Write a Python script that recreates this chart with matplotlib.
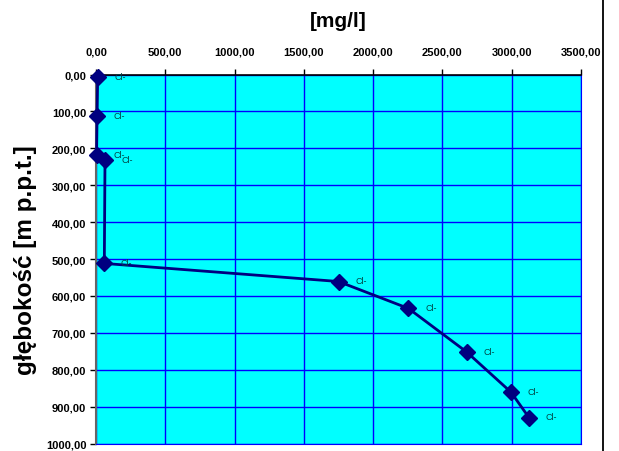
import numpy as np
import matplotlib.pyplot as plt
from matplotlib.ticker import FuncFormatter
from matplotlib.lines import Line2D

plt.rcParams['font.family'] = ['Liberation Sans', 'DejaVu Sans']

# stezenie Cl- [mg/l] i glebokosc [m p.p.t.]
stezenie = [12, 8, 4, 65, 60, 1750, 2255, 2675, 2995, 3125]
glebokosc = [8, 112, 219, 231, 512, 561, 634, 752, 861, 930]
etykiety = ['Cl-'] * len(stezenie)
x_ticks = [0, 500, 1000, 1500, 2000, 2500, 3000, 3500]
y_ticks = [0, 100, 200, 300, 400, 500, 600, 700, 800, 900, 1000]

fig = plt.figure(figsize=(6.19, 4.52), dpi=100)
ax = fig.add_axes([96/619, 1-444.5/452, (581-96)/619, (444.5-75.5)/452])
ax.set_facecolor('#00FFFF')

ax.plot(stezenie, glebokosc, color='#000080', lw=2, marker='D', ms=8.5,
        mec='#000080', mfc='#000080', zorder=3, clip_on=False)
for x, y, t in zip(stezenie, glebokosc, etykiety):
    ax.annotate(t, (x, y), xytext=(12, 0.5), textcoords='offset points',
                fontsize=6.5, color='#004444', va='center', ha='left')

ax.set_xlim(0, 3500)
ax.set_ylim(1000, 0)
ax.set_xticks(x_ticks)
ax.set_yticks(y_ticks)
fmt = FuncFormatter(lambda v, p: ('%.2f' % v).replace('.', ','))
ax.xaxis.set_major_formatter(fmt)
ax.yaxis.set_major_formatter(fmt)
ax.xaxis.tick_top()
ax.xaxis.set_label_position('top')
ax.tick_params(axis='both', labelsize=8, length=4, width=1, color='black')
for lab in ax.get_xticklabels() + ax.get_yticklabels():
    lab.set_fontweight('bold')
ax.tick_params(axis='x', pad=9)
ax.tick_params(axis='y', pad=3)

ax.grid(True, color='#0000FF', lw=1)
ax.set_axisbelow(True)
ax.spines['top'].set_color('black')
ax.spines['top'].set_linewidth(1.2)
ax.spines['left'].set_color('#666666')
ax.spines['left'].set_linewidth(1.5)
ax.spines['right'].set_color('#0000FF')
ax.spines['bottom'].set_color('#0000FF')

ax.set_xlabel('[mg/l]', fontsize=15, fontweight='bold', labelpad=15)
ax.set_ylabel('głębokość [m p.p.t.]', fontsize=17.5, fontweight='bold', labelpad=6)

fig.add_artist(Line2D([602.5/619, 602.5/619], [0, 1], color='black', lw=1.3,
                      transform=fig.transFigure))

fig.savefig('out.png', dpi=100)
